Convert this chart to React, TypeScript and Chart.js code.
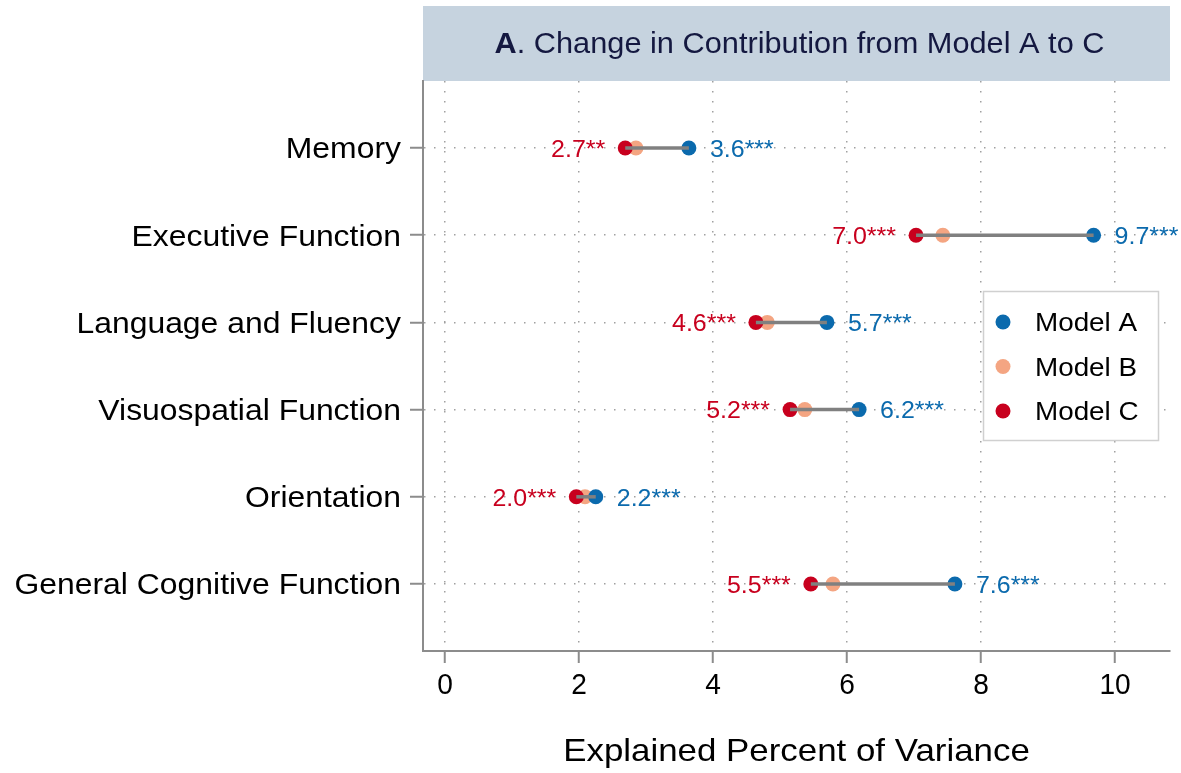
import React, { useEffect, useRef } from 'react';
import { Chart, registerables } from 'chart.js';

Chart.register(...registerables);

const categories = [
  'Memory',
  'Executive Function',
  'Language and Fluency',
  'Visuospatial Function',
  'Orientation',
  'General Cognitive Function',
];
const modelA = [3.64, 9.68, 5.7, 6.18, 2.25, 7.61];
const modelB = [2.85, 7.43, 4.81, 5.37, 2.09, 5.79];
const modelC = [2.69, 7.03, 4.64, 5.15, 1.96, 5.46];
const labelsA = ['3.6***', '9.7***', '5.7***', '6.2***', '2.2***', '7.6***'];
const labelsC = ['2.7**', '7.0***', '4.6***', '5.2***', '2.0***', '5.5***'];
const xTicks = [0, 2, 4, 6, 8, 10];
const seriesNames = ['Model A', 'Model B', 'Model C'];
const seriesColors = ['#0b6aad', '#f4a582', '#c8001e'];
const titleBold = 'A';
const titleRest = '. Change in Contribution from Model A to C';
const xTitle = 'Explained Percent of Variance';

const FONT = '"Liberation Sans", Arial, Helvetica, sans-serif';
const AXIS_GRAY = '#8c8c8c';
const GRID_GRAY = '#a0a0a0';

function drawText(
  ctx: CanvasRenderingContext2D,
  s: string,
  x: number,
  yc: number,
  size: number,
  align: CanvasTextAlign,
  color: string,
  sx = 1,
  weight = 'normal'
) {
  ctx.save();
  ctx.font = `${weight} ${size}px ${FONT}`;
  ctx.fillStyle = color;
  ctx.textBaseline = 'alphabetic';
  ctx.textAlign = align;
  ctx.translate(x, yc + size * 0.358);
  ctx.scale(sx, 1);
  ctx.fillText(s, 0, 0);
  ctx.restore();
}

const overlayPlugin = {
  id: 'overlay',
  beforeDraw(chart: any) {
    const { ctx, chartArea: a } = chart;
    ctx.save();
    ctx.fillStyle = '#c6d3df';
    ctx.fillRect(a.left, 6, a.right - a.left, a.top - 6);
    const size = 29;
    const sx = 1.06;
    ctx.font = `bold ${size}px ${FONT}`;
    const wb = ctx.measureText(titleBold).width * sx;
    ctx.font = `normal ${size}px ${FONT}`;
    const wr = ctx.measureText(titleRest).width * sx;
    const cx = (a.left + a.right) / 2 + 3;
    const startX = cx - (wb + wr) / 2;
    drawText(ctx, titleBold, startX, 42.5, size, 'left', '#141840', sx, 'bold');
    drawText(ctx, titleRest, startX + wb, 42.5, size, 'left', '#141840', sx);
    ctx.restore();
  },
  afterDatasetsDraw(chart: any) {
    const { ctx, chartArea: a, scales } = chart;
    const xs = scales.x;
    const ys = scales.y;
    ctx.save();
    ctx.strokeStyle = '#808080';
    ctx.lineWidth = 3.5;
    categories.forEach((_, i) => {
      const y = ys.getPixelForValue(i + 1);
      ctx.beginPath();
      ctx.moveTo(xs.getPixelForValue(modelC[i]), y);
      ctx.lineTo(xs.getPixelForValue(modelA[i]), y);
      ctx.stroke();
    });
    categories.forEach((_, i) => {
      const y = ys.getPixelForValue(i + 1);
      drawText(ctx, labelsC[i], xs.getPixelForValue(modelC[i]) - 20, y, 24.5, 'right', seriesColors[2], 1.02);
      drawText(ctx, labelsA[i], xs.getPixelForValue(modelA[i]) + 21, y, 24.5, 'left', seriesColors[0], 1.02);
    });
    categories.forEach((c, i) => {
      const y = ys.getPixelForValue(i + 1);
      drawText(ctx, c, a.left - 22, y, 29, 'right', '#000000', 1.1);
    });
    xTicks.forEach((v) => {
      drawText(ctx, String(v), xs.getPixelForValue(v), 683.5, 29, 'center', '#000000', 0.97);
    });
    drawText(ctx, xTitle, (a.left + a.right) / 2, 750, 32, 'center', '#000000', 1.09);
    const lx = a.right - 187;
    const ly = 291;
    ctx.fillStyle = '#ffffff';
    ctx.fillRect(lx, ly, 175, 149);
    ctx.strokeStyle = '#d0d0d0';
    ctx.lineWidth = 1.5;
    ctx.strokeRect(lx + 0.5, ly + 0.5, 175, 149);
    seriesNames.forEach((n, k) => {
      const ry = ly + 31 + k * 44.5;
      ctx.beginPath();
      ctx.fillStyle = seriesColors[k];
      ctx.arc(lx + 20, ry, 7.5, 0, Math.PI * 2);
      ctx.fill();
      drawText(ctx, n, lx + 52, ry, 26, 'left', '#000000', 1.07);
    });
    ctx.restore();
  },
};

export default function App() {
  const ref = useRef<HTMLCanvasElement | null>(null);
  useEffect(() => {
    document.body.style.margin = '0';
    const canvas = ref.current;
    if (!canvas) return;
    const seriesData = [modelA, modelB, modelC];
    const orders = [0, 2, 1];
    const chart = new Chart(canvas, {
      type: 'scatter',
      data: {
        datasets: seriesNames.map((n, k) => ({
          label: n,
          data: seriesData[k].map((v, i) => ({ x: v, y: i + 1 })),
          backgroundColor: seriesColors[k],
          borderColor: seriesColors[k],
          pointRadius: 7.5,
          pointHoverRadius: 7.5,
          pointBorderWidth: 0,
          order: orders[k],
        })),
      },
      options: {
        animation: false,
        responsive: true,
        maintainAspectRatio: false,
        devicePixelRatio: 1,
        layout: { padding: { left: 410, right: 11, top: 81, bottom: 110 } },
        plugins: { legend: { display: false }, tooltip: { enabled: false } },
        scales: {
          x: {
            type: 'linear',
            min: -0.328,
            max: 10.82,
            afterBuildTicks: (scale: any) => {
              scale.ticks = xTicks.map((v) => ({ value: v }));
            },
            ticks: { display: false },
            grid: {
              color: GRID_GRAY,
              lineWidth: 1.5,
              tickLength: 12,
              tickColor: AXIS_GRAY,
              tickWidth: 2,
              tickBorderDash: [],
            },
            border: { display: true, color: AXIS_GRAY, width: 2, dash: [1.5, 8.5] },
          },
          y: {
            type: 'linear',
            reverse: true,
            min: 0.232,
            max: 6.768,
            afterBuildTicks: (scale: any) => {
              scale.ticks = categories.map((_, i) => ({ value: i + 1 }));
            },
            ticks: { display: false },
            grid: {
              color: GRID_GRAY,
              lineWidth: 1.5,
              tickLength: 13,
              tickColor: AXIS_GRAY,
              tickWidth: 2,
              tickBorderDash: [],
            },
            border: { display: true, color: AXIS_GRAY, width: 2, dash: [1.5, 8.5] },
          },
        },
      },
      plugins: [overlayPlugin],
    } as any);
    return () => chart.destroy();
  }, []);
  return (
    <div style={{ position: 'relative', width: '1181px', height: '773px' }}>
      <canvas ref={ref} style={{ display: 'block' }} />
    </div>
  );
}
